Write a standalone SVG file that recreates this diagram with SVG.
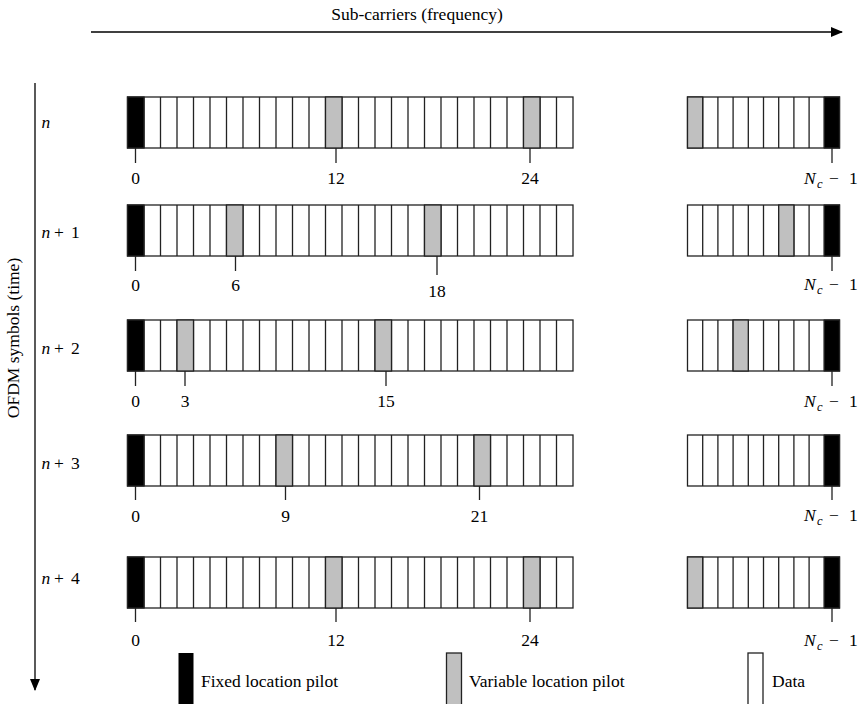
<svg xmlns="http://www.w3.org/2000/svg" xmlns:xlink="http://www.w3.org/1999/xlink" width="861" height="704" viewBox="0 0 861 704">
<style>
  .t { font-family: "Liberation Serif", "Times New Roman", serif; font-size: 17.5px; fill: #000; }
  .mid { text-anchor: middle; }
  .it { font-style: italic; }
  .cell { stroke: #222; stroke-width: 1.3; }
  .blk { fill: #000; }
  .gry { fill: #c0c0c0; }
  .wht { fill: #fff; }
  .tick { stroke: #222; stroke-width: 1.3; fill: none; }
  .axis { stroke: #000; stroke-width: 1.3; fill: none; }
</style>
<defs>
  <g id="leftStrip">
    <rect class="cell wht" x="127.5" y="0" width="445.5" height="51"/>
    <path class="tick" d="M144,0v51M160.5,0v51M177,0v51M193.5,0v51M210,0v51M226.5,0v51M243,0v51M259.5,0v51M276,0v51M292.5,0v51M309,0v51M325.5,0v51M342,0v51M358.5,0v51M375,0v51M391.5,0v51M408,0v51M424.5,0v51M441,0v51M457.5,0v51M474,0v51M490.5,0v51M507,0v51M523.5,0v51M540,0v51M556.5,0v51"/>
  </g>
  <g id="rightStrip">
    <rect class="cell wht" x="687.5" y="0" width="152" height="51"/>
    <path class="tick" d="M702.7,0v51M717.9,0v51M733.1,0v51M748.3,0v51M763.5,0v51M778.7,0v51M793.9,0v51M809.1,0v51M824.3,0v51"/>
  </g>
  <marker id="arr" markerWidth="12" markerHeight="10" refX="11" refY="5" orient="auto" markerUnits="userSpaceOnUse">
    <path d="M0,0L12,5L0,10z" fill="#000"/>
  </marker>
</defs>

<g id="connectors">
  <line class="axis" x1="91" y1="32" x2="842" y2="32" marker-end="url(#arr)"/>
  <line class="axis" x1="35" y1="83" x2="35" y2="690" marker-end="url(#arr)"/>
</g>

<g id="axis-labels">
  <text class="t mid" x="417" y="20">Sub-carriers (frequency)</text>
  <text class="t mid" transform="translate(19,338) rotate(-90)">OFDM symbols (time)</text>
</g>

<!-- Row n -->
<g id="row-n" transform="translate(0,97)">
  <text class="t" y="31"><tspan class="it" x="41.5">n</tspan></text>
  <use xlink:href="#leftStrip"/>
  <rect class="cell blk" x="127.5" y="0" width="16.5" height="51"/>
  <rect class="cell gry" x="325.5" y="0" width="16.5" height="51"/>
  <rect class="cell gry" x="523.5" y="0" width="16.5" height="51"/>
  <use xlink:href="#rightStrip"/>
  <rect class="cell gry" x="687.5" y="0" width="15.2" height="51"/>
  <rect class="cell blk" x="824.3" y="0" width="15.2" height="51"/>
  <path class="tick" d="M135.5,51v15M336,51v15M530,51v15M832,51v15"/>
  <text class="t mid" x="135.5" y="87">0</text>
  <text class="t mid" x="336" y="87">12</text>
  <text class="t mid" x="530" y="87">24</text>
  <text class="t" y="87"><tspan class="it" x="804">N</tspan><tspan class="it" x="817" dy="4" font-size="12.5">c</tspan><tspan x="829" dy="-4">−</tspan><tspan x="849">1</tspan></text>
</g>

<!-- Row n+1 -->
<g id="row-n1" transform="translate(0,205)">
  <text class="t" y="33"><tspan class="it" x="41.5">n</tspan><tspan x="54">+</tspan><tspan x="71">1</tspan></text>
  <use xlink:href="#leftStrip"/>
  <rect class="cell blk" x="127.5" y="0" width="16.5" height="51"/>
  <rect class="cell gry" x="226.5" y="0" width="16.5" height="51"/>
  <rect class="cell gry" x="424.5" y="0" width="16.5" height="51" stroke-width="2"/>
  <use xlink:href="#rightStrip"/>
  <rect class="cell gry" x="778.7" y="0" width="15.2" height="51"/>
  <rect class="cell blk" x="824.3" y="0" width="15.2" height="51"/>
  <path class="tick" d="M135.5,51v15M235.5,51v15M437,51v19M832,51v15"/>
  <text class="t mid" x="135.5" y="86">0</text>
  <text class="t mid" x="235.5" y="86">6</text>
  <text class="t mid" x="437" y="92">18</text>
  <text class="t" y="85"><tspan class="it" x="804">N</tspan><tspan class="it" x="817" dy="4" font-size="12.5">c</tspan><tspan x="829" dy="-4">−</tspan><tspan x="849">1</tspan></text>
</g>

<!-- Row n+2 -->
<g id="row-n2" transform="translate(0,320)">
  <text class="t" y="34"><tspan class="it" x="41.5">n</tspan><tspan x="54">+</tspan><tspan x="71">2</tspan></text>
  <use xlink:href="#leftStrip"/>
  <rect class="cell blk" x="127.5" y="0" width="16.5" height="51"/>
  <rect class="cell gry" x="177" y="0" width="16.5" height="51"/>
  <rect class="cell gry" x="375" y="0" width="16.5" height="51"/>
  <use xlink:href="#rightStrip"/>
  <rect class="cell gry" x="733.1" y="0" width="15.2" height="51"/>
  <rect class="cell blk" x="824.3" y="0" width="15.2" height="51"/>
  <path class="tick" d="M135.5,51v15M185,51v15M386,51v15M832,51v15"/>
  <text class="t mid" x="135.5" y="87">0</text>
  <text class="t mid" x="185" y="87">3</text>
  <text class="t mid" x="386" y="87">15</text>
  <text class="t" y="87"><tspan class="it" x="804">N</tspan><tspan class="it" x="817" dy="4" font-size="12.5">c</tspan><tspan x="829" dy="-4">−</tspan><tspan x="849">1</tspan></text>
</g>

<!-- Row n+3 -->
<g id="row-n3" transform="translate(0,435)">
  <text class="t" y="34"><tspan class="it" x="41.5">n</tspan><tspan x="54">+</tspan><tspan x="71">3</tspan></text>
  <use xlink:href="#leftStrip"/>
  <rect class="cell blk" x="127.5" y="0" width="16.5" height="51"/>
  <rect class="cell gry" x="276" y="0" width="16.5" height="51"/>
  <rect class="cell gry" x="474" y="0" width="16.5" height="51"/>
  <use xlink:href="#rightStrip"/>
  <rect class="cell blk" x="824.3" y="0" width="15.2" height="51"/>
  <path class="tick" d="M135.5,51v14M285.5,51v14M479.5,51v14M832,51v14"/>
  <text class="t mid" x="135.5" y="87">0</text>
  <text class="t mid" x="285.5" y="87">9</text>
  <text class="t mid" x="479.5" y="87">21</text>
  <text class="t" y="86"><tspan class="it" x="804">N</tspan><tspan class="it" x="817" dy="4" font-size="12.5">c</tspan><tspan x="829" dy="-4">−</tspan><tspan x="849">1</tspan></text>
</g>

<!-- Row n+4 -->
<g id="row-n4" transform="translate(0,557)">
  <text class="t" y="27"><tspan class="it" x="41.5">n</tspan><tspan x="54">+</tspan><tspan x="71">4</tspan></text>
  <use xlink:href="#leftStrip"/>
  <rect class="cell blk" x="127.5" y="0" width="16.5" height="51"/>
  <rect class="cell gry" x="325.5" y="0" width="16.5" height="51"/>
  <rect class="cell gry" x="523.5" y="0" width="16.5" height="51"/>
  <use xlink:href="#rightStrip"/>
  <rect class="cell gry" x="687.5" y="0" width="15.2" height="51"/>
  <rect class="cell blk" x="824.3" y="0" width="15.2" height="51"/>
  <path class="tick" d="M135.5,51v14M336,51v14M530,51v14M832,51v14"/>
  <text class="t mid" x="135.5" y="89">0</text>
  <text class="t mid" x="336" y="89">12</text>
  <text class="t mid" x="530" y="89">24</text>
  <text class="t" y="89"><tspan class="it" x="804">N</tspan><tspan class="it" x="817" dy="4" font-size="12.5">c</tspan><tspan x="829" dy="-4">−</tspan><tspan x="849">1</tspan></text>
</g>

<!-- Legend -->
<g id="legend-fixed">
  <rect class="blk" x="178.5" y="653" width="15" height="51"/>
  <text class="t" x="201" y="687">Fixed location pilot</text>
</g>
<g id="legend-variable">
  <rect class="cell gry" x="446.5" y="653" width="15" height="52"/>
  <text class="t" x="469" y="687">Variable location pilot</text>
</g>
<g id="legend-data">
  <rect class="cell wht" x="748" y="653" width="15" height="52"/>
  <text class="t" x="772" y="687">Data</text>
</g>
</svg>
